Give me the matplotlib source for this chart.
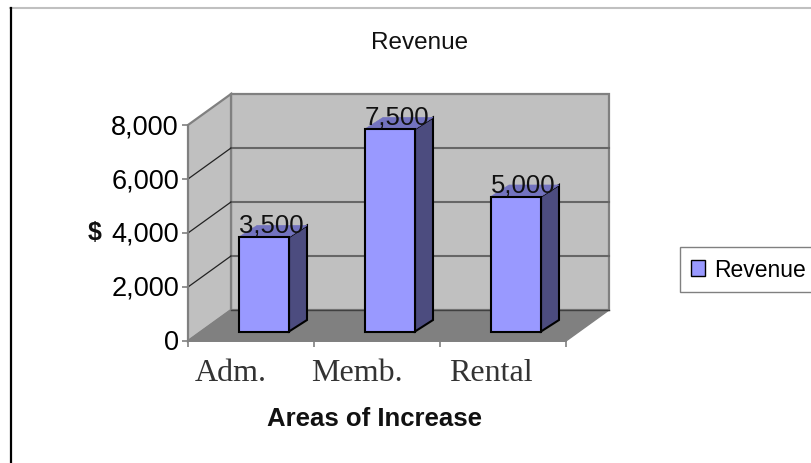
import matplotlib
matplotlib.use('Agg')
import matplotlib.pyplot as plt
from matplotlib.lines import Line2D
from matplotlib.patches import Patch
from matplotlib.transforms import ScaledTranslation

# chart data
categories = ['Adm.', 'Memb.', 'Rental']
revenue = [3500, 7500, 5000]
y_ticks = [0, 2000, 4000, 6000, 8000]
series_name = 'Revenue'

# figure parameters
W, H, DPI = 812, 464, 100
LEFT, RIGHT, TOP, BOTTOM = 188, 566, 126, 342
PX_X = (RIGHT - LEFT) / 3.0      # pixels per category
PX_Y = (BOTTOM - TOP) / 8000.0   # pixels per dollar

# fake 3d depth, in data units
WALL_DX, WALL_DY = 43 / PX_X, 31 / PX_Y
BAR_SHIFT_X, BAR_SHIFT_Y = 13 / PX_X, 9.5 / PX_Y
BAR_DX, BAR_DY = 18 / PX_X, 11.5 / PX_Y
BAR_WIDTH = 50 / PX_X

plt.rcParams['font.family'] = ['Liberation Sans', 'DejaVu Sans']

fig = plt.figure(figsize=(W / DPI, H / DPI), dpi=DPI)
ax = fig.add_axes([LEFT / W, 1 - BOTTOM / H, (RIGHT - LEFT) / W, (BOTTOM - TOP) / H])
ax.set_xlim(-0.5, 2.5)
ax.set_ylim(0, 8000)
ax.patch.set_visible(False)

x0, x1, y0, y1 = -0.5, 2.5, 0, 8000

# back wall, side wall, floor
ax.fill([x0 + WALL_DX, x1 + WALL_DX, x1 + WALL_DX, x0 + WALL_DX],
        [y0 + WALL_DY, y0 + WALL_DY, y1 + WALL_DY, y1 + WALL_DY],
        facecolor='#C0C0C0', edgecolor='#808080', lw=1.6, clip_on=False, zorder=1)
ax.fill([x0, x0 + WALL_DX, x0 + WALL_DX, x0],
        [y0, y0 + WALL_DY, y1 + WALL_DY, y1],
        facecolor='#C0C0C0', edgecolor='#808080', lw=1.6, clip_on=False, zorder=1)
ax.fill([x0, x1, x1 + WALL_DX, x0 + WALL_DX],
        [y0, y0, y0 + WALL_DY, y0 + WALL_DY],
        facecolor='#808080', edgecolor='#808080', lw=1, clip_on=False, zorder=1)
ax.plot([x0 + WALL_DX, x1 + WALL_DX], [y0 + WALL_DY, y0 + WALL_DY], color='#404040', lw=1,
        clip_on=False, zorder=2)

# gridlines on both walls
for v in y_ticks[1:-1]:
    ax.plot([x0 + WALL_DX, x1 + WALL_DX], [v + WALL_DY, v + WALL_DY], color='#666666', lw=1.5,
            clip_on=False, zorder=2)
    ax.plot([x0, x0 + WALL_DX], [v, v + WALL_DY], color='#222222', lw=0.9, clip_on=False, zorder=2)

# bars: side and top faces first
for i, v in enumerate(revenue):
    xl = i - BAR_WIDTH / 2 + BAR_SHIFT_X
    xr = xl + BAR_WIDTH
    yb = BAR_SHIFT_Y
    yt = v + BAR_SHIFT_Y
    ax.fill([xr, xr + BAR_DX, xr + BAR_DX, xr], [yb, yb + BAR_DY, yt + BAR_DY, yt],
            facecolor='#4C4C7F', edgecolor='black', lw=1.5, clip_on=False, zorder=3)
    ax.fill([xl, xr, xr + BAR_DX, xl + BAR_DX], [yt, yt, yt + BAR_DY, yt + BAR_DY],
            facecolor='#7373BF', edgecolor='#7373BF', lw=0.5, clip_on=False, zorder=3)

ax.bar([i + BAR_SHIFT_X for i in range(len(revenue))], revenue, width=BAR_WIDTH, bottom=BAR_SHIFT_Y,
       color='#9999FF', edgecolor='black', lw=1.5, zorder=4, clip_on=False)

# value labels
for i, v in enumerate(revenue):
    ax.annotate(f'{v:,}', xy=(i + BAR_SHIFT_X + BAR_DX / 2, v + BAR_SHIFT_Y + BAR_DY / 2),
                xytext=(-1.5, 4.5), textcoords='offset points', ha='center', va='center',
                fontsize=18.5, color='#111111', zorder=5, annotation_clip=False)

# axes
for side in ['top', 'right']:
    ax.spines[side].set_visible(False)
for side in ['left', 'bottom']:
    ax.spines[side].set_color('#808080')
    ax.spines[side].set_linewidth(1.4)
    ax.spines[side].set_zorder(2.5)

ax.set_yticks(y_ticks)
ax.set_yticklabels([f'{v:,}' for v in y_ticks])
ax.tick_params(axis='y', length=4.5, width=1.2, color='#808080', labelsize=19.5, pad=2)
for label in ax.get_yticklabels():
    label.set_transform(label.get_transform() + ScaledTranslation(0, 2 / DPI, fig.dpi_scale_trans))

ax.set_xticks([-0.5, 0.5, 1.5, 2.5])
ax.set_xticklabels([])
ax.set_xticks(range(len(categories)), minor=True)
ax.set_xticklabels(categories, minor=True, family=['Liberation Serif'], fontsize=23, color='#333333')
ax.tick_params(axis='x', which='major', length=4.5, width=1.2, color='#808080')
ax.tick_params(axis='x', which='minor', length=0, pad=12)

# the category labels sit left of the category centre in the original
for label, shift in zip(ax.get_xticklabels(minor=True), [-20, -20, -12]):
    label.set_transform(label.get_transform() + ScaledTranslation(shift / DPI, 0, fig.dpi_scale_trans))

# titles
fig.text(420 / W, 1 - 43 / H, 'Revenue', ha='center', va='center', fontsize=17.5, color='#111111')
fig.text(95 / W, 1 - 233 / H, '$', ha='center', va='center', fontsize=18, fontweight='bold', color='#111111')
fig.text(375 / W, 1 - 419 / H, 'Areas of Increase', ha='center', va='center', fontsize=18.5,
         fontweight='bold', color='#111111')

# legend runs off the right edge like the reference
handle = Patch(facecolor='#9999FF', edgecolor='black', lw=1.0)
fig.legend([handle], [series_name], loc='center left', bbox_to_anchor=(680 / W, 1 - 270.5 / H),
           borderaxespad=0, frameon=True, fancybox=False, edgecolor='#808080', framealpha=1,
           fontsize=16.5, handlelength=0.6, handleheight=0.7, handletextpad=0.4, borderpad=0.5)

# outer chart border
fig.add_artist(Line2D([10 / W, 1], [1 - 9 / H, 1 - 9 / H], color='#C0C0C0', lw=1.5))
fig.add_artist(Line2D([11 / W, 11 / W], [0, 1 - 9 / H], color='black', lw=1.6))

fig.savefig('out.png', dpi=DPI)
